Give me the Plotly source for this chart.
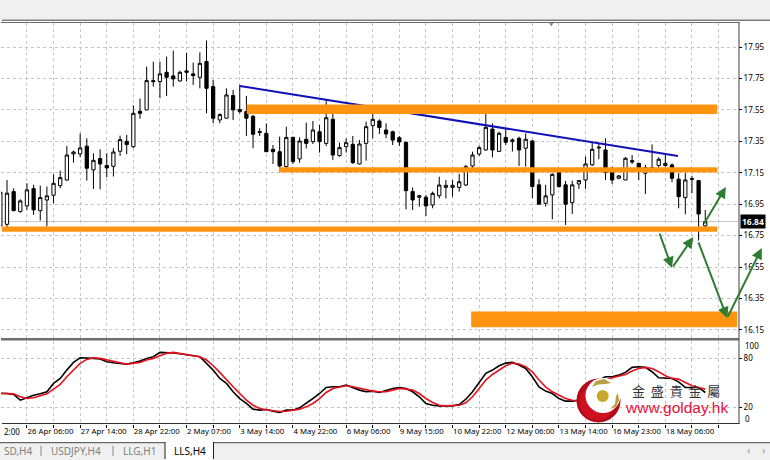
import plotly.graph_objects as go

W, H = 770, 460

bar_index = list(range(-1, 106))
open_ = [16.812,16.822,17.030,16.903,16.939,17.049,16.909,16.977,17.007,17.068,17.104,17.270,17.270,17.319,17.168,17.240,17.196,17.191,17.287,17.350,17.316,17.541,17.550,17.736,17.730,17.789,17.766,17.734,17.798,17.779,17.757,17.857,17.698,17.486,17.497,17.641,17.539,17.539,17.509,17.405,
 17.401,17.299,17.284,17.189,17.375,17.238,17.363,17.348,17.411,17.337,17.490,17.259,17.316,17.331,17.206,17.337,17.450,17.479,17.422,17.411,17.373,17.344,17.030,16.994,16.994,16.945,17.004,17.057,17.057,17.057,17.072,17.193,17.269,17.295,17.428,17.286,17.375,
 17.348,17.369,17.306,17.352,17.073,16.956,17.009,17.151,17.073,16.960,17.079,17.104,17.200,17.308,17.295,17.157,17.115,17.104,17.227,17.210,17.147,17.179,17.196,17.196,17.200,17.109,16.992,17.113,17.100,16.812]
high = [17.030,17.104,17.051,16.981,17.083,17.073,17.068,17.062,17.140,17.164,17.321,17.291,17.401,17.369,17.274,17.299,17.274,17.306,17.386,17.391,17.579,17.622,17.825,17.857,17.857,17.889,17.927,17.800,17.914,17.851,17.916,17.991,17.740,17.528,17.687,17.677,17.709,17.639,17.518,17.433,
 17.464,17.327,17.380,17.443,17.380,17.375,17.469,17.479,17.454,17.613,17.539,17.341,17.369,17.384,17.358,17.475,17.566,17.490,17.464,17.418,17.384,17.348,17.057,17.009,17.009,17.030,17.125,17.104,17.104,17.142,17.199,17.284,17.322,17.556,17.464,17.411,17.433,
 17.369,17.380,17.401,17.359,17.109,17.073,17.147,17.157,17.098,17.100,17.104,17.253,17.348,17.333,17.369,17.189,17.136,17.249,17.263,17.210,17.200,17.331,17.249,17.270,17.210,17.147,17.151,17.130,17.104,16.914]
low = [16.808,16.797,16.905,16.897,16.914,16.882,16.846,16.808,16.956,17.051,17.100,17.215,17.249,17.100,17.047,17.045,17.121,17.126,17.257,17.268,17.306,17.494,17.548,17.698,17.624,17.639,17.698,17.730,17.730,17.709,17.687,17.528,17.465,17.465,17.497,17.486,17.528,17.384,17.306,17.384,
 17.284,17.206,17.157,17.157,17.206,17.214,17.305,17.333,17.278,17.320,17.231,17.252,17.278,17.206,17.204,17.227,17.369,17.397,17.369,17.327,17.320,16.917,16.913,16.934,16.875,16.924,16.987,16.987,16.998,17.030,17.066,17.157,17.257,17.291,17.248,17.284,17.327,
 17.285,17.193,17.189,16.988,16.950,16.935,16.854,17.056,16.818,16.888,17.047,17.047,17.193,17.236,17.104,17.079,17.109,17.104,17.206,17.104,17.015,17.168,17.174,17.189,17.090,16.924,16.886,17.020,16.719,16.803]
close = [17.026,17.020,16.909,16.971,17.041,16.914,16.992,17.003,17.083,17.119,17.263,17.282,17.308,17.179,17.229,17.206,17.181,17.282,17.361,17.329,17.528,17.528,17.736,17.730,17.779,17.757,17.747,17.789,17.789,17.768,17.846,17.687,17.497,17.520,17.645,17.550,17.552,17.497,17.395,17.412,
 17.284,17.284,17.193,17.375,17.221,17.352,17.337,17.422,17.348,17.500,17.263,17.310,17.341,17.214,17.333,17.443,17.490,17.437,17.397,17.358,17.346,17.036,16.977,17.004,16.939,17.019,17.072,17.070,17.070,17.093,17.189,17.263,17.310,17.439,17.295,17.401,17.344,
 17.359,17.295,17.363,17.062,16.950,17.003,17.140,17.062,16.950,17.073,17.100,17.206,17.299,17.312,17.151,17.104,17.130,17.242,17.219,17.157,17.183,17.183,17.236,17.210,17.115,16.998,17.104,17.109,16.888,16.839]

stoch_index = list(range(-1, 106))
stoch_main = [37.0,37.0,35.8,28.9,31.8,35.0,36.6,39.1,49.2,55.3,65.4,74.7,80.4,80.4,79.6,78.8,75.6,74.3,73.1,72.7,74.3,76.4,79.6,81.6,86.9,86.9,86.1,85.3,83.7,82.9,81.6,73.5,65.4,55.3,49.2,39.1,30.9,24.9,18.0,16.8,17.6,15.5,13.9,16.8,16.8,19.6,24.9,30.9,37.0,44.3,45.1,45.1,47.2,43.9,41.1,39.1,39.9,38.2,41.1,
 43.1,44.3,43.1,39.1,33.0,24.9,22.8,22.0,22.0,22.0,23.6,30.1,39.1,50.4,61.4,65.4,70.7,73.9,74.7,71.5,67.4,57.3,45.1,39.9,37.0,30.9,27.7,27.7,28.9,37.0,45.1,53.3,57.3,57.3,59.3,62.6,68.7,69.5,68.7,63.4,56.1,55.3,55.3,51.2,44.3,44.3,44.3,38.2]
stoch_signal = [37.4,37.0,36.6,33.0,30.9,31.8,34.2,36.6,42.3,48.0,57.3,65.4,73.5,78.4,80.4,79.6,77.6,76.4,74.3,72.7,73.5,74.7,77.6,79.6,82.9,85.7,86.9,85.7,83.7,82.9,81.6,77.6,70.7,62.6,53.3,45.1,37.0,28.9,22.8,18.8,17.2,16.4,15.1,15.5,16.4,18.0,20.8,24.9,30.9,38.2,43.1,45.1,46.4,45.1,43.1,41.1,39.9,39.1,39.1,
 41.1,43.1,42.3,41.1,37.0,30.9,26.1,22.8,22.0,22.0,22.8,25.7,33.0,43.1,53.3,60.1,65.4,70.7,73.9,72.7,69.5,63.4,53.3,45.1,39.1,35.0,30.9,28.9,28.5,31.8,39.1,47.2,53.3,56.1,58.5,60.1,64.2,67.4,68.7,67.4,63.4,58.5,55.3,54.5,50.4,46.4,44.3,42.3]

price_ticks = [17.95,17.75,17.55,17.35,17.15,16.95,16.75,16.55,16.35,16.15]
price_labels = ["17.95","17.75","17.55","17.35","17.15","16.95","16.75","16.55","16.35","16.15"]
grid_bars = list(range(-1, 108, 4))
time_labels = {3:"26 Apr 06:00",11:"27 Apr 14:00",19:"28 Apr 22:00",27:"2 May 07:00",35:"3 May 14:00",43:"4 May 22:00",51:"6 May 06:00",59:"9 May 15:00",67:"10 May 22:00",75:"12 May 06:00",83:"13 May 14:00",91:"16 May 23:00",99:"18 May 06:00"}
tabs = ["SD,H4", "USDJPY,H4", "LLG,H1", "LLS,H4"]
last_price = 16.84

# zones: first bar, last bar, lower price, upper price
zones = [(36.05,106.8,17.524,17.585),(40.9,106.8,17.151,17.185),(-0.75,106.8,16.774,16.808),(69.8,109.8,16.167,16.267)]
trend_x = [35.0, 100.9]
trend_y = [17.702, 17.257]
# arrows: tail bar, tail price, head bar, head price
arrows = [(98.05,16.773,100.0,16.544),(100.0,16.544,103.2,16.741),(103.9,16.716,108.3,16.226),(108.3,16.226,113.5,16.671),(104.7,16.818,108.1,17.059)]

FONT = "Noto Sans"
GRID = "#c4c4c4"
PX0, PXSTEP = 7.0, 6.65
PY_PER_PRICE = 157.2
def xbar(px): return (px - PX0) / PXSTEP
def fx(px): return px / W
def fy(py): return 1 - py / H

fig = go.Figure()
fig.add_trace(go.Candlestick(x=bar_index, open=open_, high=high, low=low, close=close,
    increasing=dict(line=dict(color="#000", width=1), fillcolor="#fff"),
    decreasing=dict(line=dict(color="#000", width=1), fillcolor="#000"),
    whiskerwidth=0, showlegend=False, xaxis="x", yaxis="y"))
fig.add_trace(go.Scatter(x=trend_x, y=trend_y, mode="lines", line=dict(color="#1010b8", width=2), xaxis="x", yaxis="y", showlegend=False))
fig.add_trace(go.Scatter(x=stoch_index, y=stoch_main, mode="lines", line=dict(color="#000", width=1.6), xaxis="x2", yaxis="y2", showlegend=False))
fig.add_trace(go.Scatter(x=stoch_index, y=stoch_signal, mode="lines", line=dict(color="#e8101c", width=1.6), xaxis="x2", yaxis="y2", showlegend=False))

shapes = []
for a, b, lo_, hi_ in zones:
    shapes.append(dict(type="rect", xref="x", yref="y", x0=a, x1=b, y0=lo_, y1=hi_, fillcolor="#ff9410", line_width=0, layer="above"))
shapes.append(dict(type="line", xref="paper", yref="y", x0=fx(1), x1=fx(738), y0=last_price, y1=last_price, line=dict(color="#c8c8c8", width=1), layer="between"))
# window chrome
def rect(x0,y0,x1,y1,c,lc=None,lw=0):
    shapes.append(dict(type="rect", xref="paper", yref="paper", x0=fx(x0), x1=fx(x1), y0=fy(y1), y1=fy(y0), fillcolor=c, line=dict(color=lc or c, width=lw), layer="above"))
rect(0,0,770,19.5,"#f0f0f0")
rect(2,19.5,770,21,"#7c7c7c")
rect(1,22,739,23,"#6a6a6a")
rect(1,338,739,340.5,"#6e6e6e")
rect(738.5,22,739.5,424,"#404040")
rect(2,423,739.5,424,"#303030")
rect(0,442,770,443.5,"#666666")
rect(0,443.5,770,460,"#f0f0f0")
rect(165,442,213,460,"#ffffff")
rect(164.5,442,165.5,459,"#222222")
rect(213,442,214,459,"#222222")
rect(166,442,213,443.5,"#ffffff")
# logo
def circ(cx,cy,r,c):
    shapes.append(dict(type="circle", xref="paper", yref="paper", x0=fx(cx-r), x1=fx(cx+r), y0=fy(cy+r), y1=fy(cy-r), fillcolor=c, line_width=0, layer="above"))
circ(598.5,400.5,22,"#b00c1c")
circ(597.5,402,18,"#cf1020")
circ(603,395.5,17.5,"#ffffff")
circ(602.7,396,6,"#c8a828")
def arc_path(pts):
    return "M " + " L ".join(f"{fx(x):.5f},{fy(y):.5f}" for x,y in pts) + " Z"
shapes.append(dict(type="path", xref="paper", yref="paper", path=arc_path([(592,387),(596,381),(604,379),(611,383),(606,384),(598,384.5)]), fillcolor="#b8a040", line_width=0, layer="above"))
shapes.append(dict(type="path", xref="paper", yref="paper", path=arc_path([(610,409),(615,404),(616,396),(618,393),(619,400),(616,407)]), fillcolor="#b8a040", line_width=0, layer="above"))
shapes.append(dict(type="path", xref="paper", yref="paper", path=arc_path([(549,23),(553.5,23),(551.2,26.5)]), fillcolor="#909090", line_width=0, layer="above"))

anns = []
X_MAX = xbar(738)
for x0,y0,x1,y1 in arrows:
    if x1 <= X_MAX:
        anns.append(dict(xref="x", yref="y", x=x1, y=y1, axref="x", ayref="y", ax=x0, ay=y0, showarrow=True, arrowhead=2, arrowsize=1.1, arrowwidth=2, arrowcolor="#2e7d32", text=""))
    else:
        # head lies right of the plot frame: anchor it on the page, tail as an offset
        anns.append(dict(xref="paper", yref="y", x=fx(PX0+x1*PXSTEP), y=y1, axref="pixel", ayref="pixel", ax=(x0-x1)*PXSTEP, ay=(y1-y0)*PY_PER_PRICE, showarrow=True, arrowhead=2, arrowsize=1.1, arrowwidth=2, arrowcolor="#2e7d32", text=""))
anns.append(dict(xref="paper", yref="y", x=fx(740), y=last_price, xanchor="left", yanchor="middle", text="<b>16.84</b>", showarrow=False, bgcolor="#000", font=dict(family=FONT, size=8.5, color="#fff"), borderpad=1))
anns.append(dict(xref="paper", yref="paper", x=fx(743), y=fy(345.5), xanchor="left", yanchor="middle", text="100", showarrow=False, font=dict(family=FONT, size=8, color="#000")))
anns.append(dict(xref="paper", yref="paper", x=fx(743), y=fy(418), xanchor="left", yanchor="middle", text="0", showarrow=False, font=dict(family=FONT, size=8, color="#000")))
anns.append(dict(xref="paper", yref="paper", x=fx(2), y=fy(431), xanchor="left", yanchor="middle", text="2:00", showarrow=False, font=dict(family=FONT, size=8, color="#000")))
for txt, x0, col in zip(tabs, [2, 49, 121, 172], ["#808080","#808080","#808080","#000"]):
    anns.append(dict(xref="paper", yref="paper", x=fx(x0), y=fy(451), xanchor="left", yanchor="middle", text=txt, showarrow=False, font=dict(family=FONT, size=10, color=col)))
for x in (41, 113):
    shapes.append(dict(type="line", xref="paper", yref="paper", x0=fx(x), x1=fx(x), y0=fy(446), y1=fy(456), line=dict(color="#888", width=1), layer="above"))
for txt, px in (("‹", 748), ("›", 763)):
    anns.append(dict(xref="paper", yref="paper", x=fx(px), y=fy(449.5), xanchor="center", yanchor="middle", text=txt, showarrow=False, font=dict(family=FONT, size=11, color="#999")))
anns.append(dict(xref="paper", yref="paper", x=fx(675.5), y=fy(390.5), xanchor="center", yanchor="middle", text="金  盛  貴  金  屬", showarrow=False, font=dict(family="Noto Sans CJK TC", size=13, color="#333")))
anns.append(dict(xref="paper", yref="paper", x=fx(676), y=fy(407.5), xanchor="center", yanchor="middle", text="www.golday.hk", showarrow=False, font=dict(family="Liberation Sans", size=15.5, color="#e8103c")))

common_x = dict(tickvals=grid_bars, showgrid=True, gridcolor=GRID, griddash="dot", gridwidth=1, zeroline=False, showline=False)
fig.update_layout(
    width=W, height=H, autosize=False, margin=dict(l=0,r=0,t=0,b=0),
    paper_bgcolor="#fff", plot_bgcolor="#fff", showlegend=False,
    font=dict(family=FONT, size=8, color="#000"),
    shapes=shapes, annotations=anns,
    xaxis=dict(common_x, domain=[fx(1),fx(738)], range=[xbar(1),xbar(738)], anchor="y", ticktext=[""]*len(grid_bars), ticks="", rangeslider=dict(visible=False)),
    yaxis=dict(domain=[fy(338),fy(22.5)], range=[17.95-(338-47)/157.2,17.95+(47-22.5)/157.2], side="right", anchor="x",
               tickvals=price_ticks, ticktext=price_labels, showgrid=True, gridcolor=GRID, griddash="dot", zeroline=False, ticks="outside", ticklen=3, tickcolor="#000", tickfont=dict(size=8)),
    xaxis2=dict(common_x, domain=[fx(1),fx(738)], range=[xbar(1),xbar(738)], anchor="y2", ticktext=[time_labels.get(b,"") for b in grid_bars], ticks="outside", ticklen=3, tickcolor="#000", ticklabelposition="outside right", tickangle=0, tickfont=dict(size=7.8)),
    yaxis2=dict(domain=[fy(424),fy(340.5)], range=[0,101.3], side="right", anchor="x2",
               tickvals=[80,20], ticktext=["80","20"], showgrid=True, gridcolor=GRID, griddash="dot", zeroline=False, ticks="outside", ticklen=3, tickcolor="#000", tickfont=dict(size=8)),
)
fig.write_html("out.html", config={"displayModeBar": False}, post_script="document.body.style.margin='0';document.body.style.overflow='hidden';")
